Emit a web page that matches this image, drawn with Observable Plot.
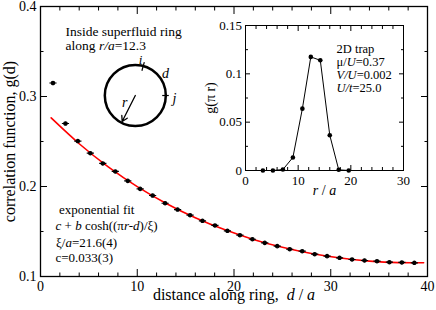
<!DOCTYPE html>
<html><head><meta charset="utf-8">
<script src="https://cdn.jsdelivr.net/npm/d3@7"></script>
<script src="https://cdn.jsdelivr.net/npm/@observablehq/plot@0.6"></script>
<style>
body{margin:0;background:#fff;}
#wrap{position:relative;width:436px;height:310px;font-family:'Liberation Serif',serif;}
</style></head><body><div id="wrap"></div>
<script>
// ---- main panel data: g(d) along ring r/a = 12.3 ----
const ringD = [1.29,2.58,3.86,5.15,6.44,7.73,9.02,10.30,11.59,12.88,14.17,15.46,16.74,18.03,19.32,20.61,21.90,23.18,24.47,25.76,27.05,28.34,29.62,30.91,32.20,33.49,34.78,36.06,37.35,38.64];
const ringG = [0.315,0.270,0.2505,0.237,0.2256,0.2167,0.2063,0.1974,0.1900,0.1814,0.1744,0.1681,0.1619,0.1567,0.1508,0.1459,0.1414,0.1374,0.1337,0.1303,0.1281,0.1248,0.1226,0.1208,0.1189,0.1178,0.1170,0.1159,0.1156,0.1152];
// exponential (cosh) fit curve
const fitD = [1.1,4,7,10,13,16,19,22,25,28,31,34,37,39.6];
const fitG = [0.2762,0.2475,0.2219,0.1999,0.1812,0.1653,0.1521,0.1412,0.1324,0.1255,0.1205,0.1171,0.1154,0.1153];
// main ticks
const mainXTicks = [0,10,20,30,40];
const mainXMinor = [2,4,6,8,12,14,16,18,22,24,26,28,32,34,36,38];
const mainYTicks = [0.1,0.2,0.3,0.4];
const mainYMinor = [0.15,0.25,0.35];

// ---- inset data: g(pi r) in 2D trap ----
const trapR = [3.3,5.2,7.1,9.0,10.8,12.4,14.2,16.0,17.7,19.6];
const trapG = [0,0,0.001,0.0135,0.064,0.1175,0.114,0.0365,0.0007,0];
const insetXTicks = [0,10,20,30];
const insetXMinor = [2,4,6,8,12,14,16,18,22,24,26,28];
const insetYTicks = [0,0.05,0.1,0.15];
const insetYMinor = [0.025,0.075,0.125];

// ---- texts ----
const yTitle = "correlation function, g(d)";
const xTitle = "distance along ring,  _d_ / _a_";
const ringNote = ["Inside superfluid ring", "along _r/a_=12.3"];
const fitNote = ["exponential fit", "_c_ + _b_ cosh((π_r-d_)/ξ)", "ξ/_a_=21.6(4)", "c=0.033(3)"];
const insetYTitle = "g(π r)";
const insetXTitle = "_r_ / _a_";
const trapNote = ["2D trap", "μ/_U_=0.37", "_V/U_=0.002", "_U/t_=25.0"];

const font = "Liberation Serif";
const ring = ringD.map((d,i)=>({d, g:ringG[i]}));
const fit = fitD.map((d,i)=>({d, g:fitG[i]}));
const trap = trapR.map((r,i)=>({r, g:trapG[i]}));
const blank = () => "";
const plain = d => String(d);
const T = (o) => ({fontFamily:font, fill:"black", ...o});

// data point symbol: dot with short horizontal bar
const barDot = {draw(ctx){ ctx.moveTo(-3.6,0); ctx.lineTo(3.6,0); ctx.moveTo(1.7,0); ctx.arc(0,0,1.7,0,2*Math.PI); ctx.closePath(); }};

// schematic ring (annotation, in data coordinates)
const sc = {x:9.80, y:0.3011};

const main = Plot.plot({
  width:436, height:310, marginLeft:40, marginRight:9, marginTop:6, marginBottom:34,
  style:"font-family:'Liberation Serif',serif;font-size:14px;background:white;overflow:visible;color:black;",
  x:{domain:[0,40]}, y:{domain:[0.1,0.4]},
  marks:[
    Plot.axisX(mainXTicks,T({anchor:"bottom", tickSize:-7, tickPadding:12, tickFormat:plain, label:null, fontSize:14})),
    Plot.axisX(mainXMinor,{anchor:"bottom", tickSize:-3.5, tickFormat:blank, label:null}),
    Plot.axisX(mainXTicks,{anchor:"top", tickSize:-7, tickFormat:blank, label:null}),
    Plot.axisX(mainXMinor,{anchor:"top", tickSize:-3.5, tickFormat:blank, label:null}),
    Plot.axisY(mainYTicks,T({anchor:"left", tickSize:-7, tickPadding:11, tickFormat:plain, label:null, fontSize:14})),
    Plot.axisY(mainYMinor,{anchor:"left", tickSize:-3.5, tickFormat:blank, label:null}),
    Plot.axisY(mainYTicks,{anchor:"right", tickSize:-7, tickFormat:blank, label:null}),
    Plot.axisY(mainYMinor,{anchor:"right", tickSize:-3.5, tickFormat:blank, label:null}),
    Plot.frame({stroke:"black", strokeWidth:1.3}),
    Plot.line(fit,{x:"d", y:"g", stroke:"#ff0000", strokeWidth:1.6, curve:"natural"}),
    Plot.dot(ring,{x:"d", y:"g", symbol:barDot, r:2, fill:"black", stroke:"black", strokeWidth:1.2}),
    // schematic ring
    Plot.dot([sc],{x:"x", y:"y", r:30.5, stroke:"black", strokeWidth:2.5, fill:"none"}),
    Plot.arrow([sc],{x1:"x", y1:"y", x2:()=>8.44, y2:()=>0.2722, stroke:"black", strokeWidth:1.3, headLength:7}),
    Plot.link([0],{x1:10.73, y1:0.3382, x2:10.48, y2:0.3286, stroke:"black", strokeWidth:1.2}),
    Plot.link([0],{x1:12.58, y1:0.3011, x2:13.26, y2:0.3011, stroke:"black", strokeWidth:1.2}),
    Plot.text(["_i_"],T({x:10.34, y:0.3412, fontSize:13})),
    Plot.text(["_d_"],T({x:12.92, y:0.3256, fontSize:14})),
    Plot.text(["_j_"],T({x:13.85, y:0.2978, fontSize:14})),
    Plot.text(["_r_"],T({x:8.71, y:0.2937, fontSize:14})),
    // notes
    Plot.text([ringNote[0]],T({frameAnchor:"top-left", dx:25, dy:20, textAnchor:"start", fontSize:13.5})),
    Plot.text([ringNote[1]],T({frameAnchor:"top-left", dx:25, dy:33.5, textAnchor:"start", fontSize:13.5})),
    ...fitNote.map((t,i)=>Plot.text([t],T({frameAnchor:"top-left", dx:[18.5,15,15.5,15][i], dy:[198,214.5,231,246][i], textAnchor:"start", fontSize:13}))),
    // axis titles
    Plot.text([yTitle],T({frameAnchor:"left", dx:-31, rotate:-90, textAnchor:"middle", fontSize:16})),
    Plot.text([xTitle],T({frameAnchor:"bottom", dy:23, textAnchor:"middle", fontSize:16}))
  ]
});

const inset = Plot.plot({
  width:241, height:190, marginLeft:50, marginRight:33, marginTop:10, marginBottom:35,
  style:"font-family:'Liberation Serif',serif;font-size:13px;background:transparent;overflow:visible;color:black;",
  x:{domain:[0,30]}, y:{domain:[0,0.15]},
  marks:[
    Plot.axisX(insetXTicks,T({anchor:"bottom", tickSize:-5, tickPadding:10, tickFormat:plain, label:null, fontSize:13})),
    Plot.axisX(insetXMinor,{anchor:"bottom", tickSize:-3, tickFormat:blank, label:null}),
    Plot.axisX(insetXTicks,{anchor:"top", tickSize:-5, tickFormat:blank, label:null}),
    Plot.axisX(insetXMinor,{anchor:"top", tickSize:-3, tickFormat:blank, label:null}),
    Plot.axisY(insetYTicks,T({anchor:"left", tickSize:-5, tickPadding:8.5, tickFormat:plain, label:null, fontSize:13})),
    Plot.axisY(insetYMinor,{anchor:"left", tickSize:-3, tickFormat:blank, label:null}),
    Plot.axisY(insetYTicks,{anchor:"right", tickSize:-5, tickFormat:blank, label:null}),
    Plot.axisY(insetYMinor,{anchor:"right", tickSize:-3, tickFormat:blank, label:null}),
    Plot.frame({stroke:"black", strokeWidth:1}),
    Plot.line(trap,{x:"r", y:"g", stroke:"black", strokeWidth:1}),
    Plot.dot(trap,{x:"r", y:"g", r:2.3, fill:"black"}),
    ...trapNote.map((t,i)=>Plot.text([t],T({frameAnchor:"top-left", dx:91, dy:[19,32,45,57.5][i], textAnchor:"start", fontSize:12.5}))),
    Plot.text([insetYTitle],T({frameAnchor:"left", dx:-35, rotate:-90, textAnchor:"middle", fontSize:14})),
    Plot.text([insetXTitle],T({frameAnchor:"bottom", dy:24, textAnchor:"middle", fontSize:14}))
  ]
});

function italicize(svg){
  svg.querySelectorAll("text, tspan").forEach(el=>{
    if (el.children.length || !el.textContent.includes("_")) return;
    const parts = el.textContent.split("_");
    el.textContent = "";
    parts.forEach((p,i)=>{
      if (!p) return;
      const t = document.createElementNS("http://www.w3.org/2000/svg","tspan");
      if (i % 2) t.setAttribute("font-style","italic");
      t.textContent = p;
      el.appendChild(t);
    });
  });
  svg.querySelectorAll("text").forEach(el=>el.setAttribute("xml:space","preserve"));
}
italicize(main); italicize(inset);

inset.style.position = "absolute";
inset.style.left = "195px";
inset.style.top = "15px";
const wrap = document.getElementById("wrap");
wrap.appendChild(main);
wrap.appendChild(inset);
</script></body></html>
